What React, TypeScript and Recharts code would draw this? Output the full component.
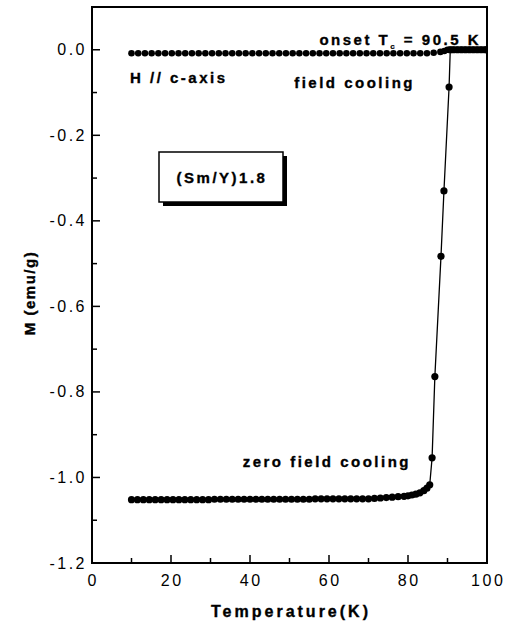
import { LineChart, Line, XAxis, YAxis, ReferenceArea } from "recharts";

// field cooling (FC) measurement, temperature in K, M in emu/g
const fcTemp = [
  10, 11.7, 13.4, 15.1, 16.8, 18.5, 20.2, 21.9, 23.6, 25.3,
  27, 28.7, 30.4, 32.1, 33.8, 35.5, 37.2, 38.9, 40.6, 42.3,
  44, 45.7, 47.4, 49.1, 50.8, 52.5, 54.2, 55.9, 57.6, 59.3,
  61, 62.7, 64.4, 66.1, 67.8, 69.5, 71.2, 72.9, 74.6, 76.3,
  78, 79.7, 81.4, 83.1, 84.8, 86.5, 88.2, 89.2, 90, 90.5,
  91, 91.5, 92, 92.5, 93, 93.5, 94, 94.5, 95, 95.5,
  96, 96.5, 97, 97.5, 98, 98.5, 99, 99.5, 100,
];
const fcM = [
  -0.008, -0.008, -0.008, -0.008, -0.008, -0.008, -0.008, -0.008, -0.008, -0.008,
  -0.008, -0.008, -0.008, -0.008, -0.008, -0.008, -0.008, -0.008, -0.008, -0.008,
  -0.008, -0.008, -0.008, -0.008, -0.008, -0.008, -0.008, -0.008, -0.008, -0.008,
  -0.008, -0.008, -0.008, -0.008, -0.008, -0.008, -0.008, -0.008, -0.008, -0.008,
  -0.008, -0.008, -0.008, -0.008, -0.008, -0.007, -0.005, -0.003, 0, 0,
  0, 0, 0, 0, 0, 0, 0, 0, 0, 0,
  0, 0, 0, 0, 0, 0, 0, 0, 0,
];

// zero field cooling (ZFC) measurement
const zfcTemp = [
  10, 11.5, 13, 14.5, 16, 17.5, 19, 20.5, 22, 23.5,
  25, 26.5, 28, 29.5, 31, 32.5, 34, 35.5, 37, 38.5,
  40, 41.5, 43, 44.5, 46, 47.5, 49, 50.5, 52, 53.5,
  55, 56.5, 58, 59.5, 61, 62.5, 64, 65.5, 67, 68.5,
  70, 71.5, 73, 74.5, 76, 77.5, 79, 80, 81, 82,
  83, 84, 84.8, 85.5, 86.1, 86.8, 88.35, 89.1, 90.4, 90.7,
  91.5, 92.5, 93.5, 94.5, 95.5, 96.5, 97.5, 98.5, 99.5, 100,
];
const zfcM = [
  -1.052, -1.052, -1.052, -1.052, -1.052, -1.052, -1.052, -1.052, -1.052, -1.052,
  -1.052, -1.052, -1.052, -1.052, -1.051, -1.051, -1.051, -1.051, -1.051, -1.051,
  -1.051, -1.051, -1.051, -1.051, -1.051, -1.051, -1.051, -1.051, -1.051, -1.051,
  -1.051, -1.05, -1.05, -1.05, -1.05, -1.05, -1.05, -1.05, -1.05, -1.05,
  -1.05, -1.049, -1.048, -1.047, -1.046, -1.045, -1.044, -1.043, -1.041, -1.039,
  -1.036, -1.031, -1.025, -1.017, -0.954, -0.764, -0.483, -0.33, -0.087, 0,
  0, 0, 0, 0, 0, 0, 0, 0, 0, 0,
];

const xTicks = [0, 10, 20, 30, 40, 50, 60, 70, 80, 90, 100];
const yTicks = [-1.2, -1.1, -1.0, -0.9, -0.8, -0.7, -0.6, -0.5, -0.4, -0.3, -0.2, -0.1, 0];

const fcData = fcTemp.map((t, i) => ({ t, m: fcM[i] }));
const zfcData = zfcTemp.map((t, i) => ({ t, m: zfcM[i] }));

const font = "'Liberation Sans', Arial, sans-serif";

const XTick = ({ x, y, payload }: any) => {
  const v = payload.value;
  const major = v % 20 === 0;
  return (
    <g>
      <line x1={x} x2={x} y1={y} y2={y - (major ? 8 : 5)} stroke="#000" strokeWidth={1.5} />
      {major && (
        <text x={x + 1.2} y={y + 23} textAnchor="middle" fontFamily={font} fontSize={16} letterSpacing={2.5} fill="#000">
          {v}
        </text>
      )}
    </g>
  );
};

const YTick = ({ x, y, payload }: any) => {
  const v = payload.value;
  const major = Math.round(v * 10) % 2 === 0;
  return (
    <g>
      <line x1={x} x2={x + (major ? 8 : 5)} y1={y} y2={y} stroke="#000" strokeWidth={1.5} />
      {major && (
        <text x={x - 5} y={y + 5.5} textAnchor="end" fontFamily={font} fontSize={16} letterSpacing={2.5} fill="#000">
          {v.toFixed(1)}
        </text>
      )}
    </g>
  );
};

// heavy bold text, like the scanned figure
const bold = {
  fontFamily: font,
  fontWeight: 700,
  fontSize: 15,
  fill: "#000",
  stroke: "#000",
  strokeWidth: 0.35,
  letterSpacing: 2.5,
};

export default function App() {
  return (
    <div style={{ position: "absolute", left: 0, top: 0, background: "#fff" }}>
      <LineChart width={510} height={628} margin={{ top: 7, right: 23, bottom: 0, left: 0 }}>
        <XAxis
          type="number"
          dataKey="t"
          domain={[0, 100]}
          ticks={xTicks}
          tickSize={0}
          tickMargin={0}
          tick={<XTick />}
          height={65}
          axisLine={{ stroke: "#000", strokeWidth: 2 }}
          allowDataOverflow
        />
        <YAxis
          type="number"
          dataKey="m"
          domain={[-1.2, 0.1]}
          ticks={yTicks}
          tickSize={0}
          tickMargin={0}
          tick={<YTick />}
          width={92}
          axisLine={{ stroke: "#000", strokeWidth: 2 }}
          allowDataOverflow
        />
        <ReferenceArea x1={0} x2={100} y1={-1.2} y2={0.1} fill="none" stroke="#000" strokeWidth={2} />
        <Line
          data={fcData}
          dataKey="m"
          stroke="none"
          dot={{ r: 3.3, fill: "#000", stroke: "none" }}
          isAnimationActive={false}
        />
        <Line
          data={zfcData}
          dataKey="m"
          stroke="#000"
          strokeWidth={1.3}
          dot={{ r: 3.6, fill: "#000", stroke: "none" }}
          isAnimationActive={false}
        />
        <text x={291} y={617} textAnchor="middle" {...bold} fontSize={16} letterSpacing={3}>
          Temperature(K)
        </text>
        <text x={35} y={293} textAnchor="middle" transform="rotate(-90 35 293)" {...bold} fontSize={15} letterSpacing={1.5}>
          M (emu/g)
        </text>
        <text x={481} y={45} textAnchor="end" {...bold}>
          onset T<tspan fontSize={8} strokeWidth={0.2} dy={4}>c</tspan>
          <tspan dy={-4}> = 90.5 K</tspan>
        </text>
        <text x={130} y={83} {...bold}>
          H // c-axis
        </text>
        <text x={415} y={88} textAnchor="end" {...bold}>
          field cooling
        </text>
        <text x={411} y={467} textAnchor="end" {...bold}>
          zero field cooling
        </text>
        <rect x={163} y={156} width={124} height={50} fill="#000" />
        <rect x={159} y={152} width={124} height={50} fill="#fff" stroke="#000" strokeWidth={1.5} />
        <text x={222} y={183} textAnchor="middle" {...bold}>
          (Sm/Y)1.8
        </text>
      </LineChart>
    </div>
  );
}
